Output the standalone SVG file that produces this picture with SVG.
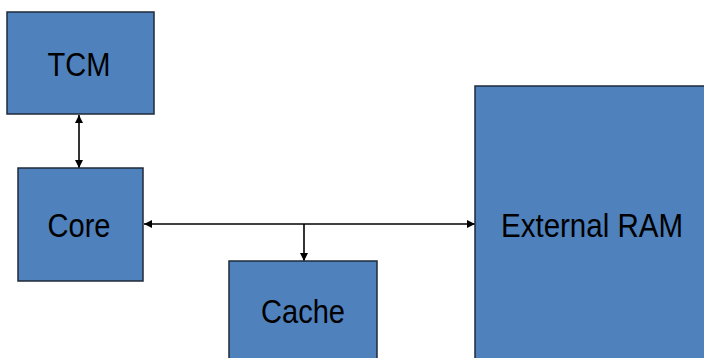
<svg xmlns="http://www.w3.org/2000/svg" width="704" height="358" viewBox="0 0 704 358">
<style>
.box{fill:#4f81bd;stroke:#1f2a38;stroke-width:1.5}
.lbl{font-family:"Liberation Sans",Arial,sans-serif;font-size:33px;fill:#000;text-anchor:middle}
.conn{stroke:#000;stroke-width:1.6;fill:none}
</style>
<defs>
<marker id="ah" viewBox="0 0 10 10" refX="10" refY="5" markerWidth="9" markerHeight="8" markerUnits="userSpaceOnUse" orient="auto-start-reverse">
<path d="M0,0 L10,5 L0,10 z" fill="#000"/>
</marker>
</defs>
<rect width="704" height="358" fill="#fff"/>
<g id="connectors">
<line class="conn" x1="79" y1="115" x2="79" y2="168" marker-start="url(#ah)" marker-end="url(#ah)"/>
<line class="conn" x1="144" y1="224" x2="475" y2="224" marker-start="url(#ah)" marker-end="url(#ah)"/>
<line class="conn" x1="304" y1="224" x2="304" y2="261" marker-end="url(#ah)"/>
</g>
<g id="tcm">
<rect class="box" x="7" y="12" width="147" height="102"/>
<text class="lbl" x="79" y="76" textLength="63" lengthAdjust="spacingAndGlyphs">TCM</text>
</g>
<g id="core">
<rect class="box" x="18" y="168" width="125" height="113"/>
<text class="lbl" x="79" y="237" textLength="63" lengthAdjust="spacingAndGlyphs">Core</text>
</g>
<g id="cache">
<rect class="box" x="229" y="261" width="148" height="110"/>
<text class="lbl" x="303" y="323" textLength="84" lengthAdjust="spacingAndGlyphs">Cache</text>
</g>
<g id="external-ram">
<rect class="box" x="475" y="86" width="240" height="290"/>
<text class="lbl" x="592" y="237" textLength="182" lengthAdjust="spacingAndGlyphs">External RAM</text>
</g>
</svg>
